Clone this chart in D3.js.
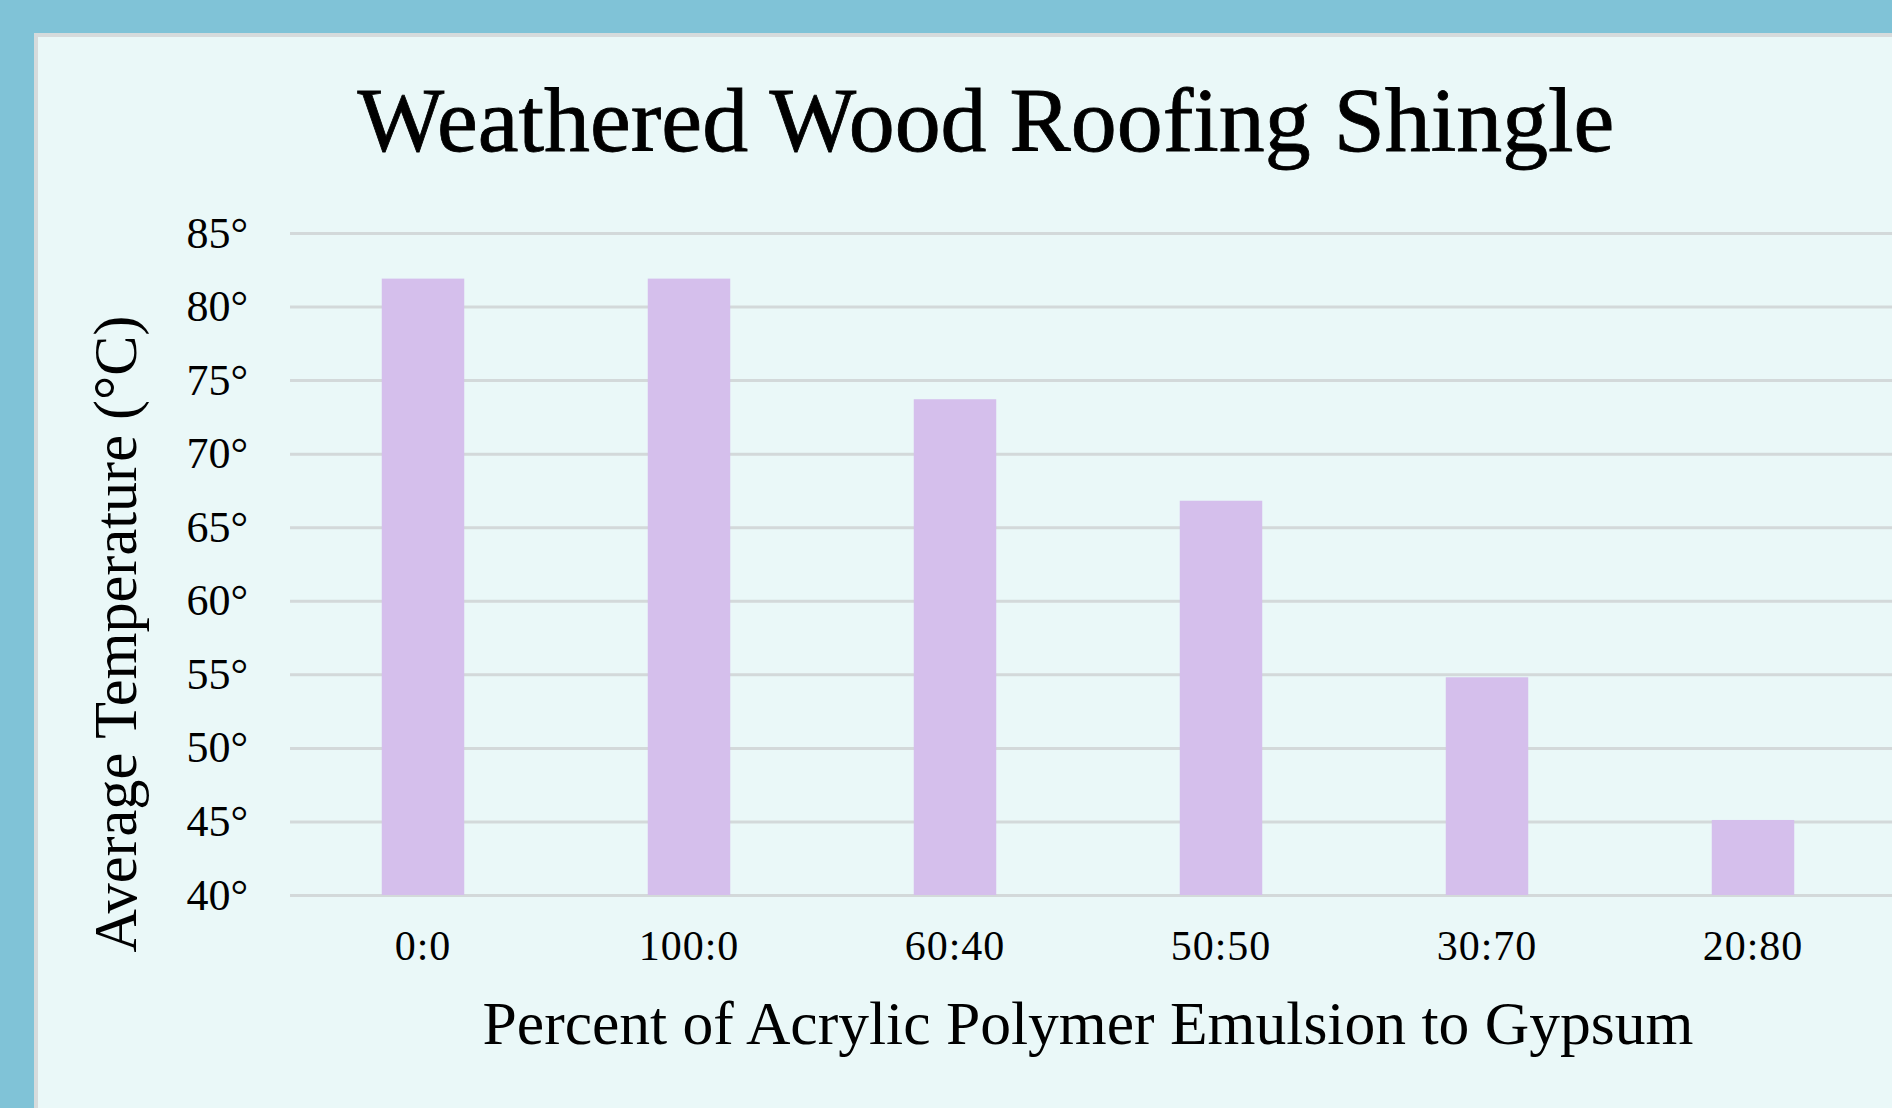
<!DOCTYPE html>
<html>
<head>
<meta charset="utf-8">
<script src="https://cdn.jsdelivr.net/npm/d3@7"></script>
<style>
  html, body { margin: 0; padding: 0; background: #80c3d7; overflow: hidden; }
  svg { display: block; }
  text { font-family: "Liberation Serif", "Times New Roman", serif; fill: #000; }
</style>
</head>
<body>
<svg id="chart" width="1892" height="1108"></svg>
<script>
// Average temperature reached by a weathered wood roofing shingle
// under different acrylic polymer emulsion : gypsum coatings.
const categories = ["0:0", "100:0", "60:40", "50:50", "30:70", "20:80"];
const temperatures = [81.9, 81.9, 73.7, 66.8, 54.8, 45.1];
const yTicks = [40, 45, 50, 55, 60, 65, 70, 75, 80, 85];

const chartTitle = "Weathered Wood Roofing Shingle";
const xTitle = "Percent of Acrylic Polymer Emulsion to Gypsum";
const yTitle = "Average Temperature (°C)";

const W = 1892, H = 1108;
const plot = { left: 290, right: 1886, top: 233, bottom: 895 };

const svg = d3.select("#chart");

// light panel behind the chart
svg.append("rect")
  .attr("x", 36).attr("y", 35)
  .attr("width", W).attr("height", H)
  .attr("fill", "#eaf8f8")
  .attr("stroke", "#d6dbdc")
  .attr("stroke-width", 4);

const x = d3.scaleBand()
  .domain(categories)
  .range([plot.left, plot.right])
  .paddingInner(0.69)
  .paddingOuter(0.345);

const y = d3.scaleLinear()
  .domain([40, 85])
  .range([plot.bottom, plot.top]);

// horizontal gridlines + tick labels
const yAxis = svg.append("g")
  .attr("transform", `translate(${plot.left},0)`)
  .call(d3.axisLeft(y)
    .tickValues(yTicks)
    .tickSize(-(W - plot.left))
    .tickPadding(42)
    .tickFormat(d => d + "°"));
yAxis.select(".domain").remove();
yAxis.selectAll(".tick line")
  .attr("stroke", "#d3d9da")
  .attr("stroke-width", 3);
yAxis.selectAll(".tick text")
  .style("font-size", "44px")
  .attr("fill", "#000");

// bars
svg.append("g")
  .selectAll("rect")
  .data(categories)
  .join("rect")
  .attr("x", d => x(d))
  .attr("width", x.bandwidth())
  .attr("y", (d, i) => y(temperatures[i]))
  .attr("height", (d, i) => y(40) - y(temperatures[i]))
  .attr("fill", "#d5bfec");

// category labels
const xAxis = svg.append("g")
  .attr("transform", `translate(0,${plot.bottom})`)
  .call(d3.axisBottom(x).tickSize(0));
xAxis.select(".domain").remove();
xAxis.selectAll(".tick text")
  .attr("y", 65)
  .attr("dy", 0)
  .style("font-size", "42px")
  .style("letter-spacing", "1px")
  .attr("fill", "#000");

// fit a text element to a given width by adjusting its font size
function fitText(sel, size, width) {
  sel.style("font-size", size + "px");
  const len = sel.node().getComputedTextLength();
  sel.style("font-size", (size * width / len).toFixed(2) + "px");
}

const title = svg.append("text")
  .attr("x", 986).attr("y", 151)
  .attr("text-anchor", "middle")
  .attr("stroke", "#000")
  .attr("stroke-width", 0.8)
  .text(chartTitle);
fitText(title, 90, 1257);

const xt = svg.append("text")
  .attr("x", 1088).attr("y", 1044)
  .attr("text-anchor", "middle")
  .text(xTitle);
fitText(xt, 60, 1211);

const yt = svg.append("text")
  .attr("transform", "translate(136,634) rotate(-90)")
  .attr("text-anchor", "middle")
  .text(yTitle);
fitText(yt, 58, 637);
</script>
</body>
</html>
